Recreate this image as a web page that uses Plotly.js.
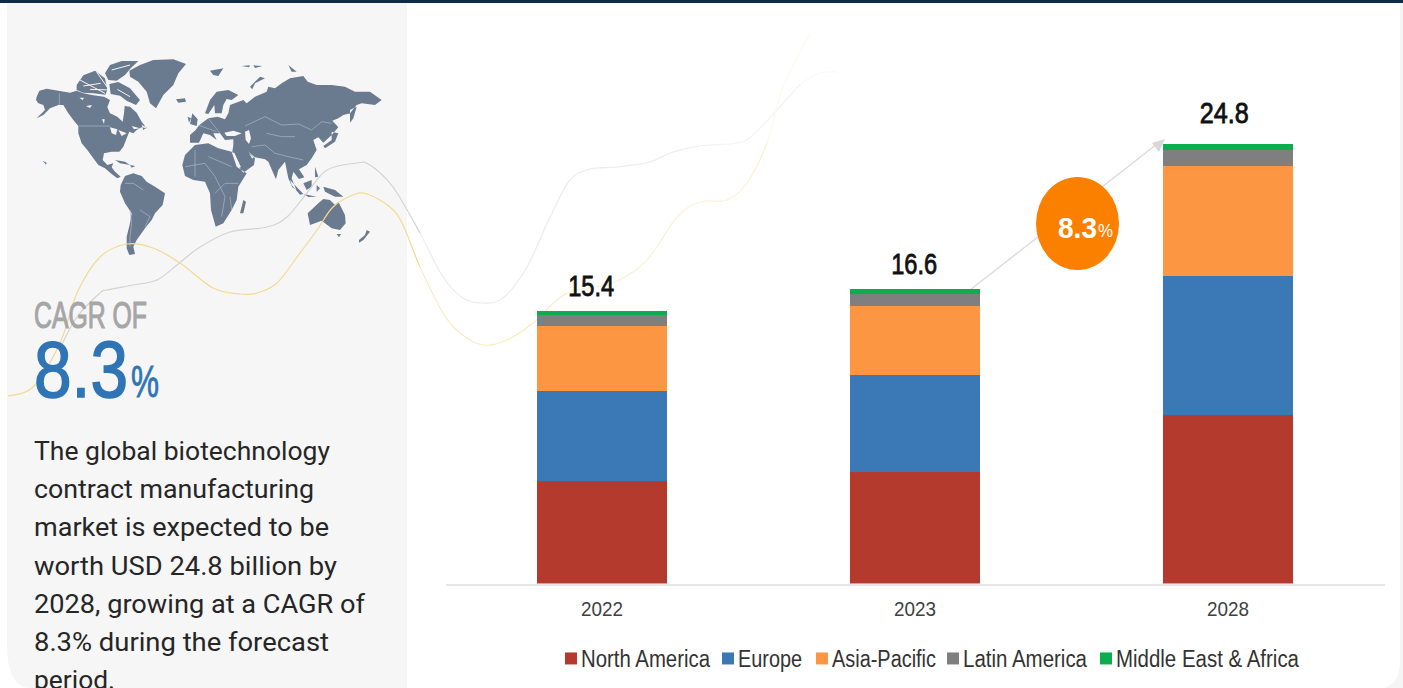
<!DOCTYPE html>
<html>
<head>
<meta charset="utf-8">
<script src="https://cdn.plot.ly/plotly-3.0.1.min.js"></script>
<style>html,body{margin:0;padding:0;background:#fff;overflow:hidden}#chart{width:1403px;height:688px}</style>
</head>
<body>
<div id="chart"></div>
<script>
// Market size by region, USD billion
const years = ['2022', '2023', '2028'];
const totals = [15.4, 16.6, 24.8];
const northAmerica = [5.76, 6.27, 9.49];
const europe = [5.08, 5.48, 7.85];
const asiaPacific = [3.67, 3.90, 6.21];
const latinAmerica = [0.62, 0.68, 0.90];
const middleEastAfrica = [0.27, 0.27, 0.35];

const seriesNames = ['North America', 'Europe', 'Asia-Pacific', 'Latin America', 'Middle East & Africa'];
const seriesColors = ['#b53a2e', '#3a78b6', '#fd9642', '#7f7f7f', '#0cad4f'];
const seriesValues = [northAmerica, europe, asiaPacific, latinAmerica, middleEastAfrica];
const legendLefts = [565, 722, 816, 947, 1100];
const legendWidths = [129, 64, 104, 124, 183];

const bodyLines = [
  'The global biotechnology',
  'contract manufacturing',
  'market is expected to be',
  'worth USD 24.8 billion by',
  '2028, growing at a CAGR of',
  '8.3% during the forecast',
  'period.'
];
const bodyWidths = [296, 280, 295, 303, 331, 295, 81];
const cagrHeading = 'CAGR OF';
const cagrValue = '8.3';

const W = 1403, H = 688;
const SANS = '"Liberation Sans", Arial, sans-serif';
const BODY = 'Roboto, "Liberation Sans", sans-serif';
const px = x => +(x / W).toFixed(5);
const py = y => +(1 - y / H).toFixed(5);

// Turn a flat pixel list into a closed or open sub-path in paper coordinates
function poly(pts, ox, oy, closed) {
  let d = '';
  for (let i = 0; i < pts.length; i += 2) {
    d += (i ? 'L' : 'M') + px(ox + pts[i] / 3) + ',' + py(oy + pts[i + 1] / 3);
  }
  return d + (closed ? 'Z' : '');
}

// Western hemisphere outlines
const westLand = [
  [20,140,28,122,50,116,85,122,120,128,140,122,160,130,190,136,222,140,240,150,232,172,240,190,262,200,278,215,282,190,284,168,300,170,320,188,335,215,350,235,335,232,320,240,310,250,298,245,290,265,280,290,268,305,245,305,222,310,218,330,232,345,250,340,245,352,255,365,272,380,262,385,245,372,225,355,205,345,190,325,172,300,155,280,145,250,145,228,130,210,115,190,100,165,85,165,60,175,40,195,20,205,45,180,40,165,25,160,18,150],
  [238,102,265,96,300,115,330,150,318,165,290,152,270,137,242,132],
  [225,70,240,45,275,33,325,33,302,55,285,75,260,92,235,90],
  [140,105,160,76,195,62,225,85,232,120,226,134,190,130,160,128,140,120],
  [335,225,350,232,340,240],
  [298,62,330,45,370,30,430,28,468,42,445,70,430,105,400,135,378,175,360,160,350,125,325,95,300,80],
  [438,148,465,145,468,155,445,158],
  [255,330,285,335,300,345,270,340],
  [300,345,316,348,305,353],
  [38,332,50,338,48,344],
  [272,405,285,378,310,370,335,378,350,395,375,410,405,430,398,465,375,490,365,510,345,535,320,570,310,590,315,612,298,615,290,595,290,560,300,520,305,490,285,460,270,425]
];
const westSeas = [
  [240,232,262,238,258,255,245,250],
  [265,240,290,250,275,258],
  [148,143,162,143,158,150],
  [168,168,186,165,180,174],
  [305,228,330,235,312,238],
  [216,208,224,208,222,222]
];
const westBorders = [
  [145,228,240,228],[88,130,88,165],[300,480,305,520,300,560,300,590],[285,400,310,400,340,420],[330,480,360,500,345,530]
];
const westChannels = [
  [160,108,212,100],[200,66,232,112],[150,90,225,130],[245,60,300,45],[262,118,300,140],[180,118,240,120]
];
// Eastern hemisphere outlines
const eastLand = [
  [22,345,30,315,60,285,100,280,130,295,170,305,185,350,215,370,190,410,185,450,170,480,145,520,122,530,108,480,105,430,90,395,55,390,30,378],
  [205,450,213,455,205,490,195,490],
  [45,278,45,255,62,240,72,226,100,205,128,200,150,208,160,190,165,165,205,150,215,160,240,140,275,125,280,110,300,115,320,100,345,85,385,78,398,95,425,105,470,105,510,110,540,125,585,125,620,150,600,165,560,160,545,165,525,190,505,195,490,205,472,212,490,232,470,255,445,278,430,262,415,270,425,300,410,325,395,345,372,358,388,382,372,387,355,365,350,385,364,420,352,412,340,385,335,360,330,335,310,360,303,388,295,370,280,335,270,328,240,322,218,303,240,325,237,345,205,368,195,355,172,305,175,285,175,268,150,270,135,250,115,250,125,270,105,255,85,250,72,278],
  [90,190,105,150,125,125,160,120,190,135,170,150,155,147,145,165,140,190,120,190,118,165,100,192],
  [52,190,68,208,65,228,45,222],
  [38,200,48,205,42,218],
  [470,245,490,250,480,275,450,295,445,288,470,270],
  [525,180,545,170,535,205,525,218],
  [420,350,430,380,420,382],
  [345,390,385,432,375,434,350,405],
  [385,400,410,390,410,410,395,420],
  [385,432,425,440,400,441],
  [445,410,480,420,505,440,480,440,450,425],
  [425,405,435,415,425,425],
  [398,490,430,460,445,447,465,450,480,465,490,455,510,495,512,520,495,540,470,535,440,512,405,525],
  [485,552,498,552,492,562],
  [575,540,585,545,565,570,552,578,552,570,570,555],
  [105,62,145,55,130,78,115,75],
  [225,110,255,80,270,85,240,100,232,118],
  [340,45,365,65,350,65],
  [200,48,225,46,222,52],[235,46,262,48,240,54]
];
const eastSeas = [
  [148,248,175,242,200,250,180,258,155,258],
  [210,245,222,240,228,265,222,282,212,270],
  [172,308,178,308,198,352,192,352],
  [222,310,236,322,232,326]
];
const eastBorders = [
  [210,228,270,200,320,225,370,222,410,240,440,215,470,220],
  [230,290,270,285,300,310,340,320,385,330],[275,250,320,260,360,260],
  [30,350,90,340,120,380,150,440,140,500],[60,300,60,380],[100,320,170,350],[190,400,150,400,120,430],[165,440,170,480],
  [72,226,125,245],[100,205,135,250]
];

// Decorative swooshes crossing the panel and the plot background
const yellowSwoosh = [[8,396],[33,387],[60,343],[77,293],[100,257],[127,244],[153,248],[180,263],[213,288],[240,294],[257,293],[277,283],[300,253],[317,230],[333,207],[353,195],[367,194],[390,207],[403,225],[420,267],[443,313],[460,333],[483,345],[507,340],[533,323],[567,293],[613,283],[647,260],[677,217],[700,202],[727,200],[747,183],[767,143],[783,87],[810,33]];
const graySwoosh = [[60,348],[77,317],[100,293],[107,290],[133,285],[157,280],[177,265],[200,247],[230,232],[267,227],[287,217],[307,193],[327,170],[357,163],[370,165],[393,187],[420,233],[443,277],[463,298],[483,303],[503,298],[527,267],[550,217],[570,180],[590,169],[617,167],[650,162],[673,152],[700,146],[737,143],[753,135],[777,110],[800,85],[820,73],[837,72]];

// Smooth a polyline into Bezier pieces and colour each piece by horizontal position
function swooshShapes(points, bands) {
  const paths = bands.map(() => '');
  for (let i = 0; i < points.length - 1; i++) {
    const p0 = points[Math.max(i - 1, 0)], p1 = points[i], p2 = points[i + 1], p3 = points[Math.min(i + 2, points.length - 1)];
    const c1 = [p1[0] + (p2[0] - p0[0]) / 6, p1[1] + (p2[1] - p0[1]) / 6];
    const c2 = [p2[0] - (p3[0] - p1[0]) / 6, p2[1] - (p3[1] - p1[1]) / 6];
    const b = bands.findIndex(k => p1[0] < k.until);
    paths[b] += 'M' + px(p1[0]) + ',' + py(p1[1]) + 'C' + px(c1[0]) + ',' + py(c1[1]) + ' ' + px(c2[0]) + ',' + py(c2[1]) + ' ' + px(p2[0]) + ',' + py(p2[1]);
  }
  return paths.map((d, i) => ({type: 'path', xref: 'paper', yref: 'paper', layer: 'below', path: d, line: {color: bands[i].color, width: 1.2}}));
}

const fill = (path, color) => ({type: 'path', xref: 'paper', yref: 'paper', layer: 'below', path, fillcolor: color, line: {width: 0}});
const stroke = (path, color, width) => ({type: 'path', xref: 'paper', yref: 'paper', layer: 'below', path, line: {color, width}});

const MAP = '#6a7a8f', PANEL = '#f6f6f7', BORDER = '#aab6c4';
const shapes = [
  fill(`M${px(7)},${py(3)}L${px(407)},${py(3)}L${px(407)},${py(688)}L${px(30)},${py(688)}C${px(15)},${py(688)} ${px(7)},${py(672)} ${px(7)},${py(645)}Z`, PANEL),
  fill(`M${px(1400)},${py(0)}L${px(1403)},${py(0)}L${px(1403)},${py(688)}L${px(1385)},${py(688)}C${px(1394)},${py(684)} ${px(1400)},${py(678)} ${px(1400)},${py(660)}Z`, '#f5f5f6'),
  fill(`M0,${py(0)}L1,${py(0)}L1,${py(3)}L0,${py(3)}Z`, '#0e2b47'),
  fill(westLand.map(p => poly(p, 30, 50, true)).join(''), MAP),
  fill(eastLand.map(p => poly(p, 175, 50, true)).join(''), MAP),
  fill(westSeas.map(p => poly(p, 30, 50, true)).join(''), PANEL),
  fill(eastSeas.map(p => poly(p, 175, 50, true)).join(''), PANEL),
  stroke(westChannels.map(p => poly(p, 30, 50, false)).join(''), PANEL, 1),
  stroke(westBorders.map(p => poly(p, 30, 50, false)).join(''), BORDER, 0.7),
  stroke(eastBorders.map(p => poly(p, 175, 50, false)).join(''), BORDER, 0.7),
  ...swooshShapes(graySwoosh, [{until: 420, color: '#d3d3d3'}, {until: 700, color: '#ececec'}, {until: 780, color: '#f3f3f3'}, {until: 9999, color: '#f9f9f9'}]),
  ...swooshShapes(yellowSwoosh, [{until: 420, color: '#f4da90'}, {until: 560, color: '#f9ebc2'}, {until: 760, color: '#fbf1d6'}, {until: 9999, color: '#fdf9ec'}]),
  stroke(`M${px(970)},${py(290)}L${px(1157)},${py(144)}`, '#dcdcdc', 1.5),
  fill(`M${px(1165)},${py(139)}L${px(1152)},${py(143)}L${px(1159)},${py(152)}Z`, '#d8d8d8'),
  {type: 'circle', xref: 'paper', yref: 'paper', layer: 'below', x0: px(1036), x1: px(1119), y0: py(270), y1: py(177), fillcolor: '#fb8000', line: {width: 0}}
];

// Free text; `width` is the run length each string is condensed to once drawn, `heft` an outline that thickens it
const note = (x, y, text, size, color, family, width, heft) => ({
  width, heft, color,
  spec: {
    xref: 'paper', yref: 'paper', x: px(x), y: py(y), text, showarrow: false,
    xanchor: 'left', yanchor: 'middle', align: 'left', borderpad: 0,
    font: {size, color, family}
  }
});

const totalShiftX = [-11, -1, -4.5];
const totalShiftY = [25, 25, 31];
const totalWidths = [46, 46, 49];

const notes = [
  note(33, 316, cagrHeading, 36, '#a6a6a6', SANS, 113, 1.1),
  note(33, 369, cagrValue, 80, '#2f75b5', SANS, 94, 1.6),
  note(130, 382, '%', 44, '#2f75b5', SANS, 28, 0.8),
  note(1057, 228, `<b>${cagrValue}</b>`, 29, '#ffffff', SANS, 39, 0),
  note(1097, 231, '%', 18, '#ffffff', SANS, 15, 0),
  ...bodyLines.map((t, i) => note(33, 451 + i * 38.2, t, 26, '#262626', BODY, bodyWidths[i], 0)),
  ...years.map((yr, i) => ({
    width: totalWidths[i], heft: 0.8, color: '#111111',
    spec: {
      x: i, y: totals[i], xref: 'x', yref: 'y', text: totals[i].toFixed(1), showarrow: false,
      yanchor: 'middle', xshift: totalShiftX[i], yshift: totalShiftY[i], font: {size: 29, color: '#111111', family: SANS}
    }
  }))
];

const traces = seriesNames.map((name, i) => ({
  type: 'bar', name, x: years, y: seriesValues[i],
  marker: {color: seriesColors[i], line: {width: 0}},
  width: 0.416, hoverinfo: 'x+y+name'
}));

const layout = {
  width: W, height: H,
  margin: {l: 0, r: 0, t: 0, b: 0},
  paper_bgcolor: '#ffffff', plot_bgcolor: 'rgba(0,0,0,0)',
  barmode: 'stack',
  xaxis: {
    domain: [445.5 / W, 1384.5 / W], type: 'category', categoryorder: 'array', categoryarray: years,
    showgrid: false, zeroline: false, showline: true, linecolor: '#e6e6e6', linewidth: 2,
    ticks: '', ticklabelstandoff: 5, tickfont: {size: 21, color: '#404040', family: SANS}
  },
  yaxis: {domain: [(H - 583.5) / H, 1 - 30 / H], range: [0, 553.5 / 17.72], visible: false},
  legend: {
    orientation: 'h', x: 0.3, xanchor: 'left', y: py(637), yanchor: 'top',
    bgcolor: 'rgba(0,0,0,0)', traceorder: 'normal',
    font: {size: 23, color: '#333333', family: SANS}
  },
  shapes, annotations: notes.map(n => n.spec)
};

// Condense a drawn string to a given run length
function condense(el, width) {
  el.setAttribute('textLength', width);
  el.setAttribute('lengthAdjust', 'spacingAndGlyphs');
}

Plotly.newPlot('chart', traces, layout, {displayModeBar: false}).then(gd => {
  gd.querySelectorAll('.annotation').forEach((g, i) => {
    const text = g.querySelector('text');
    if (!text) return;
    if (notes[i].width) condense(text, notes[i].width);
    if (notes[i].heft) {
      text.style.stroke = notes[i].color;
      text.style.strokeWidth = notes[i].heft + 'px';
    }
  });
  gd.querySelectorAll('.xtick text').forEach(t => condense(t, 42));

  // Tighten the legend: swatch close to its label, entries on one row at set offsets
  const items = gd.querySelectorAll('.legend .traces');
  const rowMatch = /[ ,]\s*([-\d.]+)\)/.exec(items[0].getAttribute('transform') || '');
  const rowY = rowMatch ? rowMatch[1] : 0;
  items.forEach((item, i) => {
    const text = item.querySelector('.legendtext');
    const swatch = item.querySelector('.legendpoints path');
    condense(text, legendWidths[i]);
    const gap = text.getBoundingClientRect().left - swatch.getBoundingClientRect().right;
    item.querySelector('.layers').setAttribute('transform', `translate(${gap - 4},0)`);
    item.setAttribute('transform', `translate(0,${rowY})`);
    const left = swatch.getBoundingClientRect().left;
    item.setAttribute('transform', `translate(${legendLefts[i] - left},${rowY})`);
  });
});
</script>
</body>
</html>
